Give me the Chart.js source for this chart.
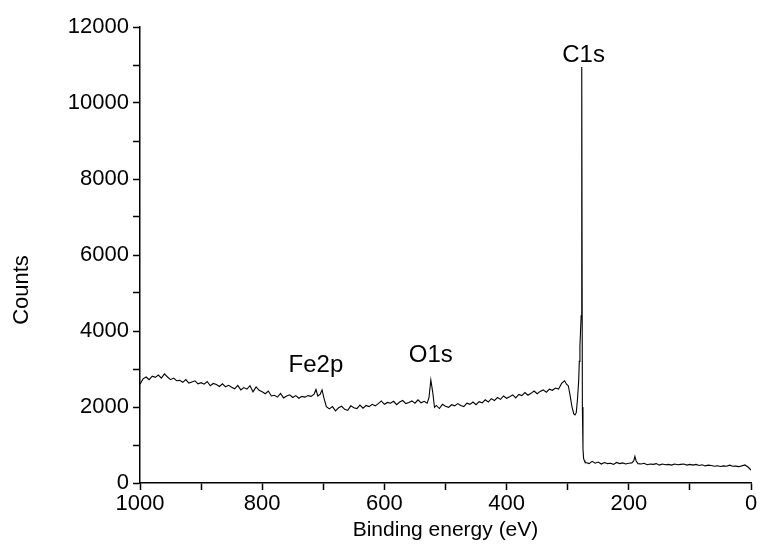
<!DOCTYPE html>
<html>
<head>
<meta charset="utf-8">
<script src="https://cdn.jsdelivr.net/npm/chart.js@4"></script>
<style>
  html, body { margin: 0; padding: 0; background: #fff; }
  #wrap { width: 763px; height: 558px; }
</style>
</head>
<body>
<div id="wrap"><canvas id="xps"></canvas></div>
<script>
// Survey spectrum, binding energy (eV) vs counts
const energy = [
  1000,995,990,985,980,975,970,965,960,955,950,945,940,935,930,925,920,915,910,905,
  900,895,890,885,880,875,870,865,860,855,850,845,840,835,830,825,820,815,810,805,
  800,795,790,785,780,775,770,765,760,755,750,745,740,735,730,725,720,715,712,709,
  705,702,699,695,690,685,680,675,670,665,660,655,650,645,640,635,630,625,620,615,
  610,605,600,595,590,585,580,575,570,565,560,555,550,545,540,535,530,527,524,521,
  518,515,510,505,500,495,490,485,480,475,470,465,460,455,450,445,440,435,430,425,
  420,415,410,405,400,395,390,385,380,375,370,365,360,355,350,345,340,335,330,325,
  320,315,310,305,302,299,296,293,290,288,286,284,282,281,280,279,278,277,276,275,
  274,273,272,270,265,260,255,250,245,240,235,230,225,220,215,210,205,200,195,192,
  190,188,185,180,175,170,165,160,155,150,145,140,135,130,125,120,115,110,105,100,
  95,90,85,80,75,70,65,60,55,50,45,40,35,30,25,20,15,10,5,0
];
const counts = [
  2600,2740,2790,2720,2810,2780,2840,2760,2870,2790,2720,2760,2690,2700,2650,2720,2630,2660,2690,2610,
  2640,2600,2670,2560,2620,2590,2540,2610,2530,2570,2520,2480,2570,2450,2510,2470,2560,2400,2530,2440,
  2400,2350,2420,2290,2310,2260,2360,2240,2290,2320,2250,2300,2230,2280,2260,2300,2280,2340,2460,2290,
  2340,2450,2240,2010,1950,2010,1900,1980,2020,1940,1910,2030,1980,1960,2050,1970,2040,2010,2070,2030,
  2090,2160,2070,2120,2100,2150,2060,2130,2170,2090,2120,2160,2100,2190,2110,2150,2100,2250,2710,2400,
  1990,2040,1960,2070,2020,1990,2060,2030,2090,2040,2010,2100,2070,2130,2060,2140,2110,2190,2130,2220,
  2170,2250,2200,2290,2230,2270,2320,2240,2330,2300,2380,2310,2360,2420,2350,2410,2450,2390,2470,2440,
  2500,2470,2620,2690,2600,2560,2300,2000,1820,1790,1850,2200,2700,3200,3600,4000,4400,10950,2000,900,
  650,600,560,540,510,570,520,550,500,540,510,520,490,540,510,530,500,520,530,580,
  700,580,510,500,520,480,500,490,510,470,500,480,490,470,500,480,490,500,470,490,
  470,490,460,480,450,470,460,440,455,435,450,440,470,440,445,430,450,475,420,340
];

// peak labels and where they sit (energy, counts at text centre)
const peakNames = ['Fe2p', 'O1s', 'C1s'];
const peakEnergy = [712, 524, 274];
const peakCounts = [3100, 3370, 11250];

const FONT = '"Liberation Sans", Arial, sans-serif';

const labelPlugin = {
  id: 'peakLabels',
  afterDraw(chart) {
    const c = chart.ctx;
    const xs = chart.scales.x, ys = chart.scales.y;
    c.save();
    c.fillStyle = '#000';
    c.font = '24px ' + FONT;
    c.textAlign = 'center';
    c.textBaseline = 'middle';
    peakNames.forEach((name, i) => {
      c.fillText(name, xs.getPixelForValue(peakEnergy[i]), ys.getPixelForValue(peakCounts[i]));
    });
    // y axis title
    c.font = '22px ' + FONT;
    c.translate(22, 290);
    c.rotate(-Math.PI / 2);
    c.fillText('Counts', 0, 0);
    c.restore();
  }
};

const pts = energy.map((e, i) => ({ x: e, y: counts[i] }));

new Chart(document.getElementById('xps'), {
  type: 'line',
  data: {
    datasets: [{
      data: pts,
      borderColor: '#000',
      borderWidth: 1.1,
      pointRadius: 0,
      tension: 0,
      fill: false
    }]
  },
  options: {
    responsive: true,
    maintainAspectRatio: false,
    animation: false,
    layout: { padding: { top: 27, right: 12, left: 0, bottom: 0 } },
    plugins: { legend: { display: false }, tooltip: { enabled: false } },
    scales: {
      x: {
        type: 'linear',
        reverse: true,
        min: 0, max: 1000,
        afterFit: s => { s.height = 75; },
        border: { display: true, color: '#000', width: 1.5 },
        grid: { drawOnChartArea: false, drawTicks: true, tickLength: 7, tickColor: '#000', tickWidth: 1.5 },
        ticks: {
          stepSize: 100, autoSkip: false, maxRotation: 0, padding: 1,
          color: '#000', font: { family: FONT, size: 22 },
          callback: v => (v % 200 === 0 ? v : '')
        },
        title: {
          display: true, text: 'Binding energy (eV)', color: '#000',
          font: { family: FONT, size: 21 }, padding: { top: 0, bottom: 15 }
        }
      },
      y: {
        min: 0, max: 12000,
        afterFit: s => { s.width = 140; },
        border: { display: true, color: '#000', width: 1.5 },
        grid: { drawOnChartArea: false, drawTicks: true, tickLength: 7, tickColor: '#000', tickWidth: 1.5 },
        ticks: {
          stepSize: 1000, autoSkip: false, padding: 4,
          color: '#000', font: { family: FONT, size: 22 },
          callback: v => (v % 2000 === 0 ? v : '')
        }
      }
    }
  },
  plugins: [labelPlugin]
});
</script>
</body>
</html>
